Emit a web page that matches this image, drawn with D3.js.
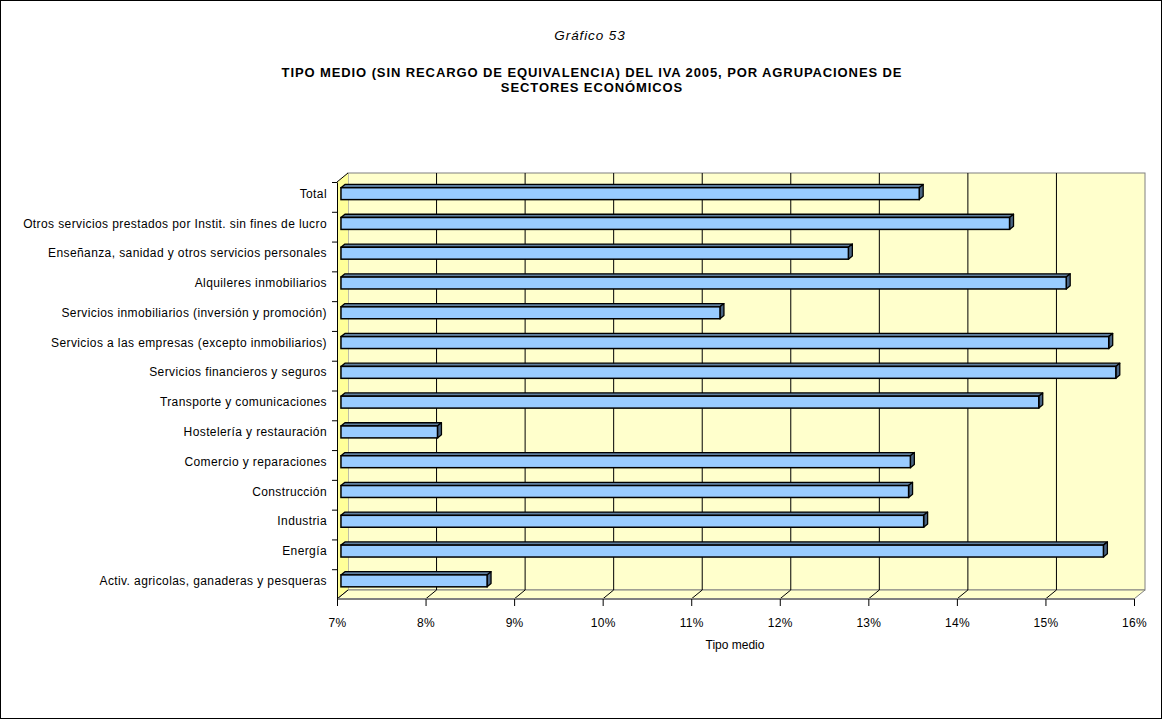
<!DOCTYPE html>
<html>
<head>
<meta charset="utf-8">
<script src="https://cdn.jsdelivr.net/npm/d3@7"></script>
<style>
  body { margin: 0; background: #fff; }
  svg text { font-family: "Liberation Sans", Arial, sans-serif; fill: #000; }
</style>
</head>
<body>
<div id="chart"></div>
<script>
// data, top row first
let categories = [
    'Total',
    'Otros servicios prestados por Instit. sin fines de lucro',
    'Enseñanza, sanidad y otros servicios personales',
    'Alquileres inmobiliarios',
    'Servicios inmobiliarios (inversión y promoción)',
    'Servicios a las empresas (excepto inmobiliarios)',
    'Servicios financieros y seguros',
    'Transporte y comunicaciones',
    'Hostelería y restauración',
    'Comercio y reparaciones',
    'Construcción',
    'Industria',
    'Energía',
    'Activ. agricolas, ganaderas y pesqueras'
];
let tipoMedio = [13.53, 14.55, 12.73, 15.19, 11.28, 15.67, 15.75, 14.88, 8.09, 13.43, 13.41, 13.58, 15.61, 8.65];
let tickValues = [7, 8, 9, 10, 11, 12, 13, 14, 15, 16];

let width = 1162, height = 719;
let svg = d3.select('#chart').append('svg')
    .attr('width', width)
    .attr('height', height);

// outer frame
svg.append('rect')
    .attr('x', 0.5).attr('y', 0.5)
    .attr('width', width - 1).attr('height', height - 1)
    .attr('fill', '#fff').attr('stroke', '#000');

// titles
svg.append('text')
    .attr('x', 590).attr('y', 40)
    .attr('text-anchor', 'middle')
    .style('font-size', '13.5px').style('font-style', 'italic').style('letter-spacing', '0.9px')
    .text('Gráfico 53');
let titleLines = ['TIPO MEDIO (SIN RECARGO DE EQUIVALENCIA) DEL IVA 2005, POR AGRUPACIONES DE', 'SECTORES ECONÓMICOS'];
svg.append('g').selectAll('text')
    .data(titleLines)
    .enter().append('text')
    .attr('x', 592)
    .attr('y', (d, i) => 77 + i * 15)
    .attr('text-anchor', 'middle')
    .style('font-size', '13px').style('font-weight', 'bold').style('letter-spacing', '0.9px')
    .text(d => d);

// front plane scales + depth offset of the 3D box
let x = d3.scaleLinear().domain([7, 16]).range([337, 1134]);
let y = d3.scaleBand().domain(categories).range([182, 599]);
let dx = 11, dy = -9;
let x0 = x.range()[0], x1 = x.range()[1], yTop = y.range()[0], yBot = y.range()[1];

let box = svg.append('g').attr('class', 'box');
// back wall
box.append('rect')
    .attr('x', x0 + dx).attr('y', yTop + dy)
    .attr('width', x1 - x0).attr('height', yBot - yTop)
    .attr('fill', '#FFFFCC').attr('stroke', '#808080');
// left side wall
box.append('polygon')
    .attr('points', [[x0, yTop], [x0 + dx, yTop + dy], [x0 + dx, yBot + dy], [x0, yBot]].join(' '))
    .attr('fill', '#FFFF99').attr('stroke', 'none');
// floor
box.append('polygon')
    .attr('points', [[x0, yBot], [x0 + dx, yBot + dy], [x1 + dx, yBot + dy], [x1, yBot]].join(' '))
    .attr('fill', '#FFFFCC').attr('stroke', '#808080');

// grid lines on back wall and floor
let grid = svg.append('g').attr('class', 'grid');
grid.selectAll('line.v')
    .data(tickValues.slice(1, -1))
    .enter().append('line')
    .attr('x1', d => x(d) + dx).attr('x2', d => x(d) + dx)
    .attr('y1', yTop + dy).attr('y2', yBot + dy)
    .attr('stroke', '#000');
grid.selectAll('line.f')
    .data(tickValues.slice(0, -1))
    .enter().append('line')
    .attr('x1', d => x(d)).attr('x2', d => x(d) + dx)
    .attr('y1', yBot).attr('y2', yBot + dy)
    .attr('stroke', '#000');
grid.append('line')
    .attr('x1', x0).attr('y1', yTop).attr('x2', x0 + dx).attr('y2', yTop + dy)
    .attr('stroke', '#000');
grid.append('line')
    .attr('x1', x0).attr('y1', yBot).attr('x2', x1).attr('y2', yBot)
    .attr('stroke', '#808080').attr('stroke-width', 2);

// bars: drawn partly into the depth
let bd = 0.36, bw = 0.36;   // front offset and thickness as share of depth
let bh = y.bandwidth() * 0.4;
let bars = svg.append('g').attr('class', 'bars')
    .selectAll('g')
    .data(categories.map((c, i) => ({ cat: c, v: tipoMedio[i] })))
    .enter().append('g');

function face(d) {
    let fx0 = x(7) + dx * bd, fx1 = x(d.v) + dx * bd;
    let fy0 = y(d.cat) + y.bandwidth() / 2 - bh / 2 + dy * bd, fy1 = fy0 + bh;
    let ox = dx * bw, oy = dy * bw;
    return { fx0, fx1, fy0, fy1, ox, oy };
}
bars.append('polygon')
    .attr('points', d => {
        let f = face(d);
        return [[f.fx0, f.fy0], [f.fx0 + f.ox, f.fy0 + f.oy], [f.fx1 + f.ox, f.fy0 + f.oy], [f.fx1, f.fy0]].join(' ');
    })
    .attr('fill', '#5F7F9F').attr('stroke', '#000').attr('stroke-width', 1.3).attr('stroke-linejoin', 'round');
bars.append('polygon')
    .attr('points', d => {
        let f = face(d);
        return [[f.fx1, f.fy0], [f.fx1 + f.ox, f.fy0 + f.oy], [f.fx1 + f.ox, f.fy1 + f.oy], [f.fx1, f.fy1]].join(' ');
    })
    .attr('fill', '#4A6584').attr('stroke', '#000').attr('stroke-width', 1.3).attr('stroke-linejoin', 'round');
bars.append('rect')
    .attr('x', d => face(d).fx0)
    .attr('y', d => face(d).fy0)
    .attr('width', d => face(d).fx1 - face(d).fx0)
    .attr('height', bh)
    .attr('fill', '#99CCFF').attr('stroke', '#000').attr('stroke-width', 1.5);

// axes
let xAxis = d3.axisBottom(x)
    .tickValues(tickValues)
    .tickFormat(d => d + '%')
    .tickSize(7).tickPadding(12);
let gx = svg.append('g')
    .attr('transform', `translate(0,${yBot})`)
    .call(xAxis);
gx.select('.domain').remove();
gx.selectAll('line').attr('stroke', '#000');
gx.selectAll('text').style('font-size', '12px').style('letter-spacing', '0.3px');

let yAxis = d3.axisLeft(y).tickSize(0).tickPadding(10);
let gy = svg.append('g')
    .attr('transform', `translate(${x0},0)`)
    .call(yAxis);
gy.select('.domain').attr('stroke', '#000');
gy.selectAll('text')
    .attr('y', dy * 0.33)
    .style('font-size', '12px').style('letter-spacing', '0.4px');
// boundary ticks between categories
gy.selectAll('line.sep')
    .data(d3.range(categories.length))
    .enter().append('line')
    .attr('class', 'sep')
    .attr('x1', -5).attr('x2', 0)
    .attr('y1', i => y(categories[i]) + 0.5).attr('y2', i => y(categories[i]) + 0.5)
    .attr('stroke', '#000');

svg.append('text')
    .attr('x', 735).attr('y', 649)
    .attr('text-anchor', 'middle')
    .style('font-size', '12px')
    .text('Tipo medio');
</script>
</body>
</html>
